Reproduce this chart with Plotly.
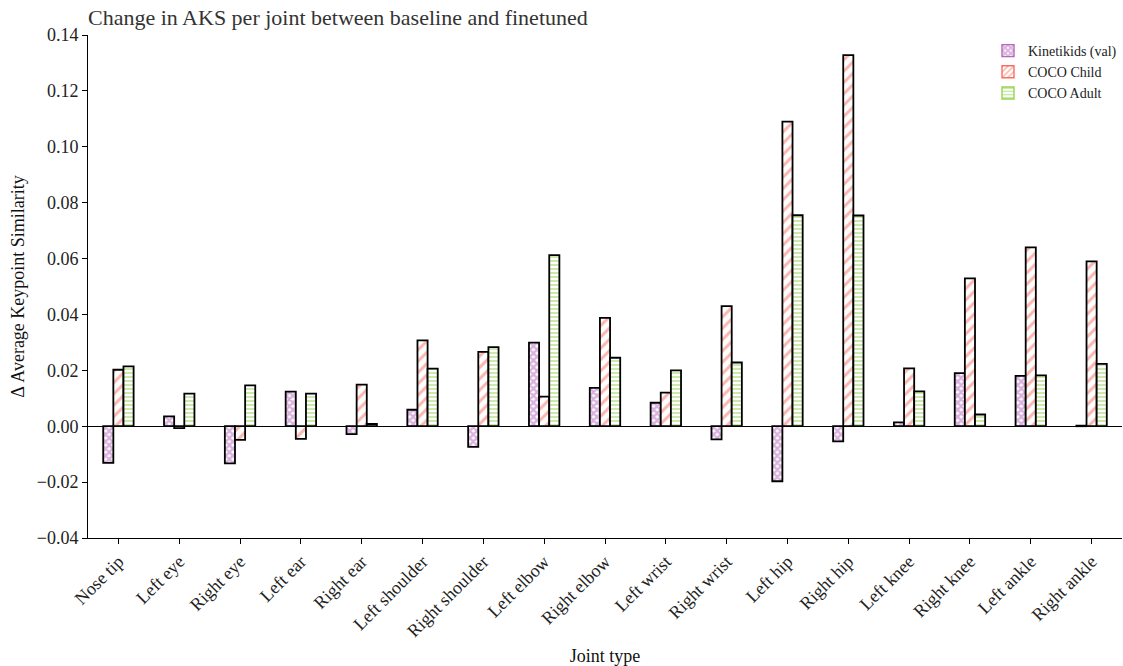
import plotly.graph_objects as go

joints = ["Nose tip", "Left eye", "Right eye", "Left ear", "Right ear",
          "Left shoulder", "Right shoulder", "Left elbow", "Right elbow",
          "Left wrist", "Right wrist", "Left hip", "Right hip",
          "Left knee", "Right knee", "Left ankle", "Right ankle"]

kinetikids_val = [-0.0131, 0.0035, -0.0133, 0.0124, -0.0028,
                  0.0059, -0.0074, 0.0299, 0.0137,
                  0.0084, -0.0047, -0.0197, -0.0054,
                  0.0014, 0.0190, 0.0180, 0.0002]
coco_child = [0.0202, -0.0007, -0.0049, -0.0045, 0.0149,
              0.0307, 0.0266, 0.0106, 0.0388,
              0.0120, 0.0430, 0.1090, 0.1328,
              0.0207, 0.0529, 0.0640, 0.0590]
coco_adult = [0.0214, 0.0117, 0.0146, 0.0117, 0.0008,
              0.0206, 0.0283, 0.0612, 0.0245,
              0.0200, 0.0228, 0.0755, 0.0754,
              0.0125, 0.0042, 0.0182, 0.0223]

# name, values, hatch colour, hatch shape, hatch size, hatch solidity
series = [
    ("Kinetikids (val)", kinetikids_val, "#b468bd", "x", 5, 0.72),
    ("COCO Child", coco_child, "#f86f60", "/", 8, 0.38),
    ("COCO Adult", coco_adult, "#97d456", "-", 4, 0.5),
]

FONT = "Liberation Serif"
fig = go.Figure()

for name, vals, color, shape, psize, solid in series:
    fig.add_trace(go.Bar(
        x=joints, y=vals, name=name, showlegend=False,
        marker=dict(color="white",
                    line=dict(color="black", width=1.8),
                    pattern=dict(shape=shape, fgcolor=color, bgcolor="white",
                                 size=psize, solidity=solid, fillmode="overlay")),
    ))

# legend swatches with coloured outlines, on a hidden overlay axis
for name, vals, color, shape, psize, solid in series:
    fig.add_trace(go.Bar(
        x=[None], y=[None], name=name, xaxis="x2", yaxis="y2",
        marker=dict(color="white",
                    line=dict(color=color, width=1.4),
                    pattern=dict(shape=shape, fgcolor=color, bgcolor="white",
                                 size=min(psize, 5), solidity=solid, fillmode="overlay")),
    ))

fig.update_layout(
    width=1123, height=666,
    margin=dict(l=88, r=1, t=35, b=128),
    paper_bgcolor="white", plot_bgcolor="white",
    barmode="group", bargap=0.5, bargroupgap=0,
    font=dict(family=FONT, size=18, color="#222222"),
    title=dict(text="Change in AKS per joint between baseline and finetuned",
               x=0, xanchor="left", xref="paper",
               y=1 - 17 / 666, yanchor="middle", yref="container",
               font=dict(family=FONT, size=22, color="#333333")),
    xaxis=dict(
        type="category", range=[-0.5, 16.5],
        showline=True, linecolor="black", linewidth=1,
        ticks="outside", ticklen=5, tickcolor="black",
        tickangle=-45, showgrid=False, zeroline=False,
        tickfont=dict(family=FONT, size=18, color="#222222"),
        title=dict(text="Joint type", standoff=12,
                   font=dict(family=FONT, size=18, color="#111111")),
    ),
    yaxis=dict(
        range=[-0.04, 0.14], dtick=0.02, tickformat=".2f",
        showline=True, linecolor="black", linewidth=1,
        ticks="outside", ticklen=5, tickcolor="black",
        showgrid=False, zeroline=True, zerolinecolor="black", zerolinewidth=1,
        tickfont=dict(family=FONT, size=18, color="#222222"),
        title=dict(text="Δ Average Keypoint Similarity", standoff=7,
                   font=dict(family=FONT, size=18, color="#111111")),
    ),
    xaxis2=dict(overlaying="x", visible=False, range=[0, 1]),
    yaxis2=dict(overlaying="y", visible=False, range=[0, 1]),
    legend=dict(x=1, xanchor="right", y=1, yanchor="top",
                bgcolor="rgba(0,0,0,0)", tracegroupgap=0,
                itemwidth=30,
                font=dict(family=FONT, size=14, color="#222222")),
)

fig.write_html("out.html")
